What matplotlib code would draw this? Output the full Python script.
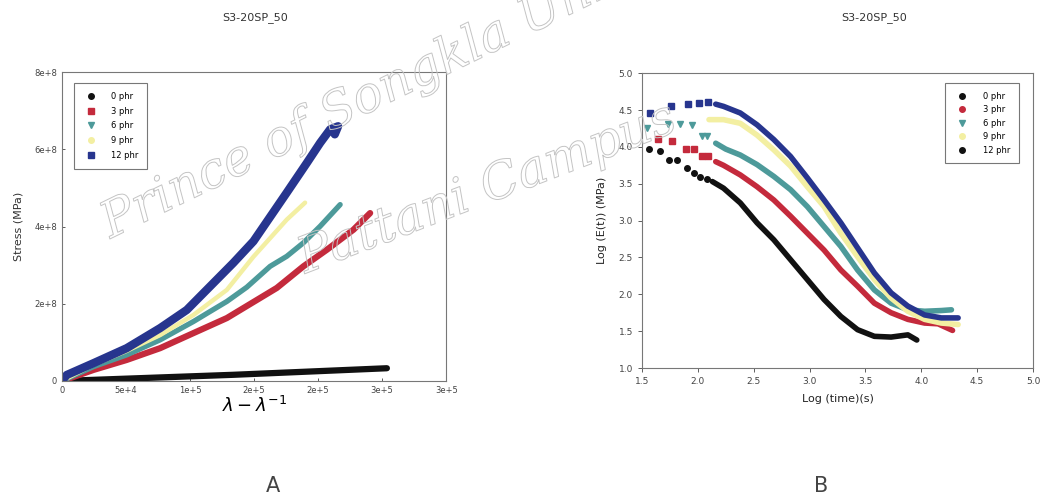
import matplotlib
matplotlib.use("Agg")
import matplotlib.pyplot as plt
import matplotlib.patheffects as pe
from matplotlib.lines import Line2D

# ---- data, panel A (stress vs lambda - lambda^-1) ----
labels_a = ["0 phr", "3 phr", "6 phr", "9 phr", "12 phr"]

xa_0 = [0, 1.338e5, 2.537e5]
ya_0 = [0, 1.6e7, 3.3e7]

xa_3 = [0, 2.45e4, 5.05e4, 7.66e4, 1.026e5, 1.287e5, 1.547e5, 1.677e5, 1.885e5, 2.068e5, 2.276e5, 2.406e5]
ya_3 = [0, 2.86e7, 5.45e7, 8.5e7, 1.24e8, 1.63e8, 2.15e8, 2.41e8, 2.97e8, 3.4e8, 3.92e8, 4.35e8]

xa_6 = [0, 2.45e4, 5.05e4, 7.66e4, 1.026e5, 1.156e5, 1.287e5, 1.443e5, 1.625e5, 1.755e5, 1.885e5, 2.016e5, 2.172e5]
ya_6 = [0, 3.7e7, 6.75e7, 1.065e8, 1.54e8, 1.8e8, 2.06e8, 2.43e8, 2.97e8, 3.23e8, 3.58e8, 4.01e8, 4.57e8]

xa_9 = [0, 2.45e4, 5.05e4, 7.66e4, 1.026e5, 1.287e5, 1.495e5, 1.755e5, 1.898e5]
ya_9 = [0, 4.2e7, 7.8e7, 1.19e8, 1.71e8, 2.36e8, 3.22e8, 4.18e8, 4.62e8]

xa_12 = [0, 3.7e3, 2.45e4, 5.05e4, 7.66e4, 9.74e4, 1.156e5, 1.338e5, 1.495e5, 1.755e5,
         1.912e5, 2.016e5, 2.094e5, 2.156e5, 2.13e5]
ya_12 = [0, 1.56e7, 4.6e7, 8.5e7, 1.37e8, 1.84e8, 2.45e8, 3.06e8, 3.62e8, 4.88e8,
         5.65e8, 6.17e8, 6.52e8, 6.6e8, 6.39e8]

xticks_a = [0, 5e4, 1e5, 1.5e5, 2e5, 2.5e5, 3e5]
xticklabels_a = ["0", "5e+4", "1e+5", "2e+5", "2e+5", "3e+5", "3e+5"]
yticks_a = [0, 2e8, 4e8, 6e8, 8e8]
yticklabels_a = ["0", "2e+8", "4e+8", "6e+8", "8e+8"]

# ---- data, panel B (log E(t) vs log time) ----
# sparse early points
xb_0s = [1.56, 1.66, 1.74, 1.81, 1.90, 1.97, 2.02, 2.08]
yb_0s = [3.97, 3.95, 3.82, 3.82, 3.72, 3.65, 3.59, 3.57]
xb_3s = [1.64, 1.77, 1.89, 1.97, 2.04, 2.09]
yb_3s = [4.11, 4.08, 3.97, 3.97, 3.87, 3.87]
xb_6s = [1.545, 1.73, 1.84, 1.95, 2.04, 2.08]
yb_6s = [4.26, 4.31, 4.31, 4.30, 4.15, 4.15]
xb_12s = [1.57, 1.76, 1.91, 2.01, 2.09]
yb_12s = [4.46, 4.56, 4.58, 4.60, 4.61]

# dense part
xb_0 = [2.13, 2.23, 2.38, 2.53, 2.68, 2.83, 2.98, 3.13, 3.28, 3.43, 3.58, 3.73, 3.88, 3.96]
yb_0 = [3.53, 3.44, 3.24, 2.97, 2.74, 2.47, 2.20, 1.93, 1.70, 1.52, 1.43, 1.42, 1.45, 1.38]
xb_3 = [2.16, 2.23, 2.38, 2.53, 2.68, 2.83, 2.98, 3.13, 3.28, 3.43, 3.58, 3.73, 3.88, 4.03, 4.15, 4.28]
yb_3 = [3.80, 3.75, 3.62, 3.46, 3.28, 3.06, 2.83, 2.60, 2.33, 2.11, 1.88, 1.75, 1.66, 1.61, 1.60, 1.51]
xb_6 = [2.16, 2.25, 2.38, 2.53, 2.68, 2.83, 2.98, 3.13, 3.28, 3.43, 3.58, 3.73, 3.88, 4.03, 4.18, 4.27]
yb_6 = [4.05, 3.97, 3.89, 3.76, 3.60, 3.42, 3.19, 2.92, 2.65, 2.33, 2.06, 1.88, 1.79, 1.77, 1.78, 1.79]
xb_9 = [2.10, 2.23, 2.38, 2.53, 2.68, 2.83, 2.98, 3.13, 3.28, 3.43, 3.58, 3.73, 3.88, 4.03, 4.18, 4.33]
yb_9 = [4.37, 4.37, 4.32, 4.16, 3.96, 3.74, 3.46, 3.19, 2.83, 2.51, 2.20, 1.95, 1.77, 1.66, 1.61, 1.59]
xb_12 = [2.16, 2.23, 2.38, 2.53, 2.68, 2.83, 2.98, 3.13, 3.28, 3.43, 3.58, 3.73, 3.88, 4.03, 4.18, 4.33]
yb_12 = [4.58, 4.55, 4.46, 4.30, 4.10, 3.87, 3.58, 3.28, 2.97, 2.63, 2.29, 2.02, 1.84, 1.72, 1.68, 1.68]

xticks_b = [1.5, 2.0, 2.5, 3.0, 3.5, 4.0, 4.5, 5.0]
yticks_b = [1.0, 1.5, 2.0, 2.5, 3.0, 3.5, 4.0, 4.5, 5.0]

c_black = "#111111"
c_red = "#c42a3c"
c_teal = "#4d9a9a"
c_yellow = "#f3efa2"
c_blue = "#27358e"
colors = [c_black, c_red, c_teal, c_yellow, c_blue]
markers = ["o", "s", "v", "o", "s"]
widths_a = [4.5, 4.5, 3.8, 3.2, 6.0]

fig = plt.figure(figsize=(10.41, 4.98), dpi=100)
fig.patch.set_facecolor("white")

# ---- panel A ----
axa = fig.add_axes([0.0596, 0.235, 0.369, 0.620])
series_a = [(xa_0, ya_0), (xa_3, ya_3), (xa_6, ya_6), (xa_9, ya_9), (xa_12, ya_12)]
for (xs, ys), col, lw in zip(series_a, colors, widths_a):
    axa.plot(xs, ys, color=col, lw=lw, solid_capstyle="round", solid_joinstyle="round")
axa.set_xlim(0, 3e5)
axa.set_ylim(0, 8e8)
axa.set_xticks(xticks_a)
axa.set_xticklabels(xticklabels_a)
axa.set_yticks(yticks_a)
axa.set_yticklabels(yticklabels_a)
axa.tick_params(labelsize=6, colors="#444444", length=2, width=0.6, direction="in")
for s in axa.spines.values():
    s.set_color("#777777")
    s.set_linewidth(0.8)
axa.set_ylabel("Stress (MPa)", fontsize=8, color="#333333", labelpad=8)
axa.set_xlabel(r"$\lambda - \lambda^{-1}$", fontsize=13, labelpad=1)
handles_a = [Line2D([], [], ls="none", marker=m, color=c, markersize=4)
             for m, c in zip(markers, colors)]
leg = axa.legend(handles_a, labels_a, loc="upper left", bbox_to_anchor=(0.02, 0.98),
                 fontsize=6, frameon=True, fancybox=False, edgecolor="#555555",
                 borderpad=1.1, labelspacing=0.7, handletextpad=1.3)
leg.get_frame().set_linewidth(0.8)

# ---- panel B ----
axb = fig.add_axes([0.6167, 0.261, 0.3756, 0.592])
sparse_b = [(xb_0s, yb_0s), (xb_3s, yb_3s), (xb_6s, yb_6s), None, (xb_12s, yb_12s)]
dense_b = [(xb_0, yb_0), (xb_3, yb_3), (xb_6, yb_6), (xb_9, yb_9), (xb_12, yb_12)]
labels_b = ["0 phr", "3 phr", "6 phr", "9 phr", "12 phr"]
for sp, (xs, ys), col, m in zip(sparse_b, dense_b, colors, markers):
    if sp is not None:
        axb.plot(sp[0], sp[1], ls="none", marker=m, color=col, markersize=4)
    axb.plot(xs, ys, color=col, lw=4.0, solid_capstyle="round", solid_joinstyle="round")
axb.set_xlim(1.5, 5.0)
axb.set_ylim(1.0, 5.0)
axb.set_xticks(xticks_b)
axb.set_yticks(yticks_b)
axb.tick_params(labelsize=6.5, colors="#444444", length=3, width=0.6, direction="out")
for s in axb.spines.values():
    s.set_color("#777777")
    s.set_linewidth(0.8)
axb.set_xlabel("Log (time)(s)", fontsize=8, color="#222222", labelpad=6)
axb.set_ylabel("Log (E(t)) (MPa)", fontsize=8, color="#222222", labelpad=8)
handles_b = [Line2D([], [], ls="none", marker=m, color=c, markersize=4)
             for m, c in zip(["o", "o", "v", "o", "o"], [c_black, c_red, c_teal, c_yellow, c_black])]
legb = axb.legend(handles_b, labels_b, loc="upper right", bbox_to_anchor=(0.975, 0.98),
                  fontsize=6, frameon=True, fancybox=False, edgecolor="#555555",
                  borderpad=1.0, labelspacing=0.55, handletextpad=1.6)
legb.get_frame().set_linewidth(0.8)

# ---- titles and panel letters ----
fig.text(0.245, 0.965, "S3-20SP_50", ha="center", va="center", fontsize=8, color="#333333")
fig.text(0.840, 0.965, "S3-20SP_50", ha="center", va="center", fontsize=8, color="#333333")
fig.text(0.262, 0.025, "A", ha="center", va="center", fontsize=15, color="#444444")
fig.text(0.789, 0.025, "B", ha="center", va="center", fontsize=15, color="#444444")

# ---- watermark ----
wm = [pe.Stroke(linewidth=0.7, foreground="#c4c4c4")]
fig.text(0.09, 0.50, "Prince of Songkla University", fontsize=36, style="italic",
         family="DejaVu Serif", color="none", rotation=26, ha="left", va="bottom",
         path_effects=wm)
fig.text(0.28, 0.43, "Pattani Campus", fontsize=36, style="italic",
         family="DejaVu Serif", color="none", rotation=21, ha="left", va="bottom",
         path_effects=wm)

fig.savefig("out.png", dpi=100, facecolor="white")
